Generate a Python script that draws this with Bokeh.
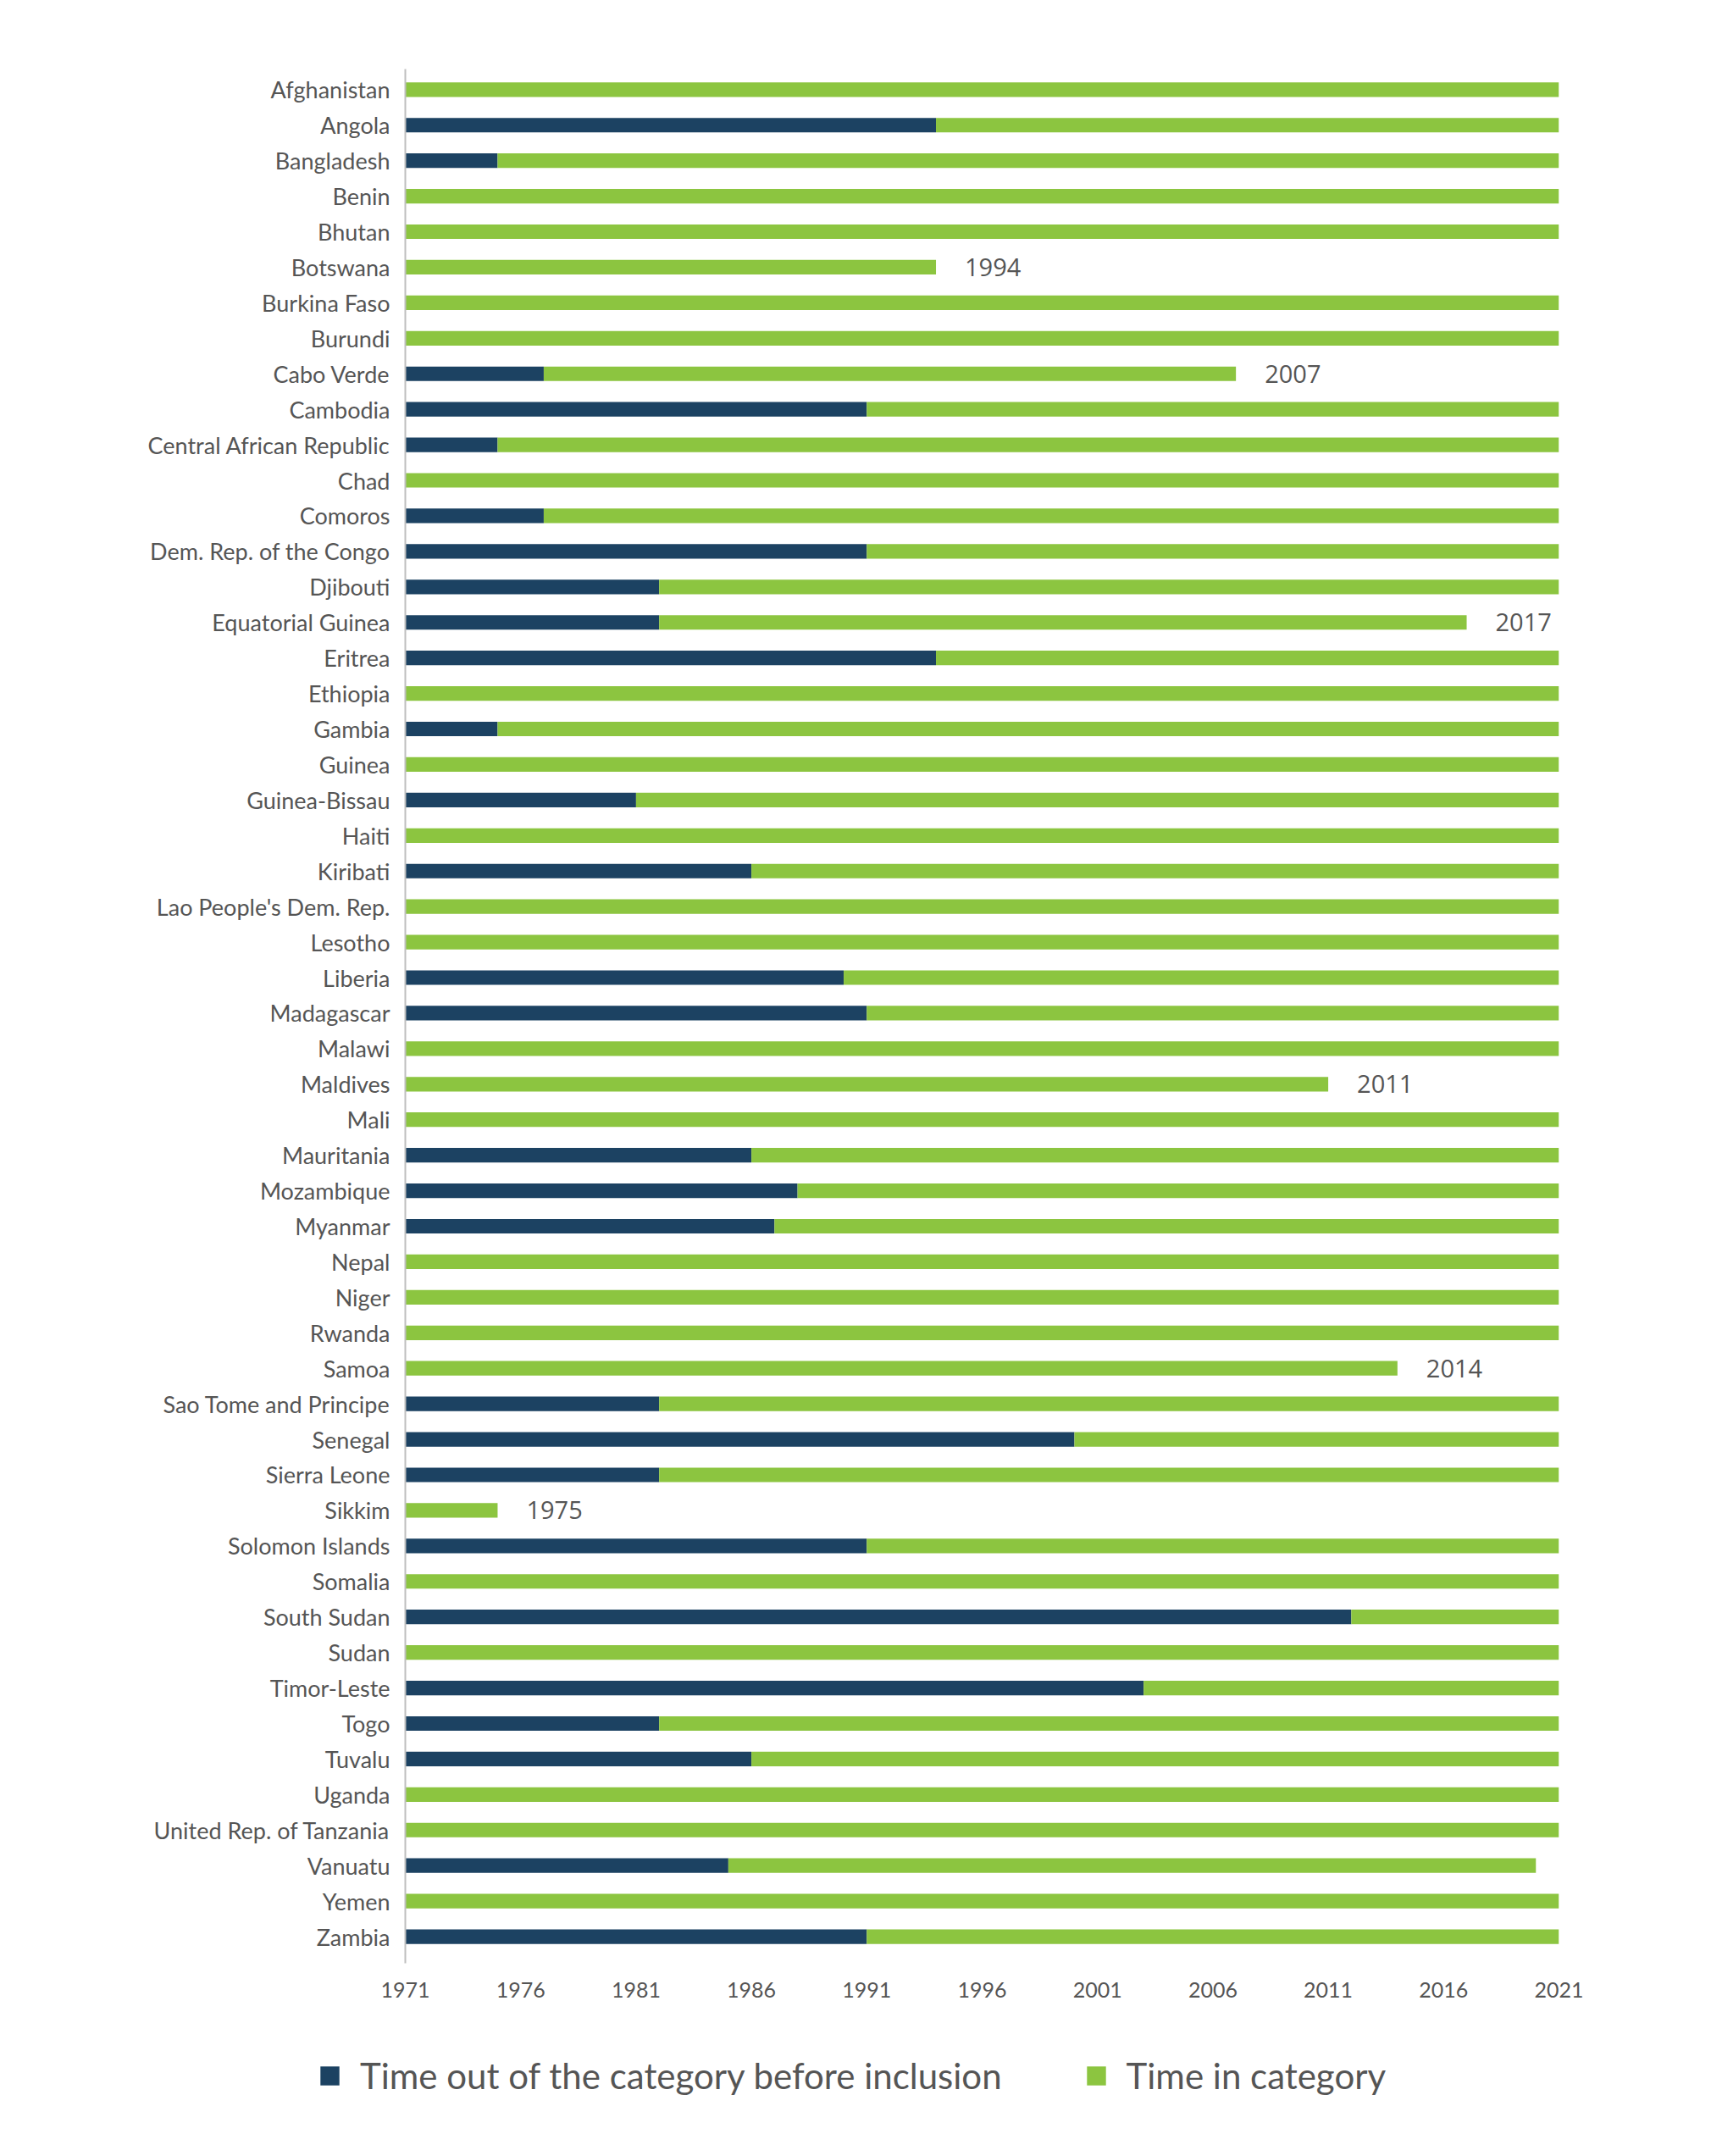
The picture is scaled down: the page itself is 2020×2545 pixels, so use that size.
from bokeh.plotting import figure
from bokeh.layouts import column
from bokeh.models import ColumnDataSource, Range1d, FixedTicker, Legend, LegendItem
from bokeh.core.properties import value
from bokeh.embed import file_html
from bokeh.resources import INLINE

countries = [
    "Afghanistan", "Angola", "Bangladesh", "Benin", "Bhutan", "Botswana",
    "Burkina Faso", "Burundi", "Cabo Verde", "Cambodia", "Central African Republic",
    "Chad", "Comoros", "Dem. Rep. of the Congo", "Djibouti", "Equatorial Guinea",
    "Eritrea", "Ethiopia", "Gambia", "Guinea", "Guinea-Bissau", "Haiti", "Kiribati",
    "Lao People's Dem. Rep.", "Lesotho", "Liberia", "Madagascar", "Malawi",
    "Maldives", "Mali", "Mauritania", "Mozambique", "Myanmar", "Nepal", "Niger",
    "Rwanda", "Samoa", "Sao Tome and Principe", "Senegal", "Sierra Leone", "Sikkim",
    "Solomon Islands", "Somalia", "South Sudan", "Sudan", "Timor-Leste", "Togo",
    "Tuvalu", "Uganda", "United Rep. of Tanzania", "Vanuatu", "Yemen", "Zambia",
]

inclusion_year = [
    1971, 1994, 1975, 1971, 1971, 1971,
    1971, 1971, 1977, 1991, 1975,
    1971, 1977, 1991, 1982, 1982,
    1994, 1971, 1975, 1971, 1981, 1971, 1986,
    1971, 1971, 1990, 1991, 1971,
    1971, 1971, 1986, 1988, 1987, 1971, 1971,
    1971, 1971, 1982, 2000, 1982, 1971,
    1991, 1971, 2012, 1971, 2003, 1982,
    1986, 1971, 1971, 1985, 1971, 1991,
]

# year of leaving the category (None = still in category)
graduation_year = [
    None, None, None, None, None, 1994,
    None, None, 2007, None, None,
    None, None, None, None, 2017,
    None, None, None, None, None, None, None,
    None, None, None, None, None,
    2011, None, None, None, None, None, None,
    None, 2014, None, None, None, 1975,
    None, None, None, None, None, None,
    None, None, None, 2020, None, None,
]

year_ticks = [1971, 1976, 1981, 1986, 1991, 1996, 2001, 2006, 2011, 2016, 2021]
start_year = 1971
current_year = 2021

series_names = ["Time out of the category before inclusion", "Time in category"]

DARK = "#1C4262"
GREEN = "#8CC540"
TEXT = "#555555"
LABEL_FONT = "Lato"

n = len(countries)
ypos = [n - 1 - i for i in range(n)]
end_year = [g if g is not None else current_year for g in graduation_year]

src = ColumnDataSource(dict(
    y=ypos,
    start=[start_year] * n,
    incl=inclusion_year,
    end=end_year,
))

p = figure(
    width=2000, height=2377,
    output_backend="svg", toolbar_location=None,
    x_range=Range1d(start_year, current_year),
    y_range=Range1d(-0.75, n - 1 + 0.58),
    min_border_left=478, min_border_right=160,
    min_border_top=81, min_border_bottom=60,
)
p.frame_align = False
p.outline_line_color = None
p.background_fill_color = "white"
p.border_fill_color = "white"
p.xgrid.grid_line_color = None
p.ygrid.grid_line_color = None

bh = 0.41
p.hbar(y="y", left="start", right="incl", height=bh, source=src,
       fill_color=DARK, line_color=None)
p.hbar(y="y", left="incl", right="end", height=bh, source=src,
       fill_color=GREEN, line_color=None)

# exit-year annotations
gx = [g for g in graduation_year if g is not None]
gy = [ypos[i] for i, g in enumerate(graduation_year) if g is not None]
gt = [str(g) for g in graduation_year if g is not None]
p.text(x=gx, y=gy, text=gt, x_offset=34, text_baseline="middle", text_align="left",
       text_font=value("Open Sans"), text_font_size="29px", text_color=TEXT)

# y axis
p.yaxis.ticker = FixedTicker(ticks=ypos)
p.yaxis.major_label_overrides = {ypos[i]: countries[i] for i in range(n)}
p.yaxis.major_tick_line_color = None
p.yaxis.minor_tick_line_color = None
p.yaxis.axis_line_color = "#BFBFBF"
p.yaxis.axis_line_width = 2
p.yaxis.major_label_text_font = LABEL_FONT
p.yaxis.major_label_text_font_size = "27px"
p.yaxis.major_label_text_color = TEXT
p.yaxis.major_label_standoff = 12

# x axis
p.xaxis.ticker = FixedTicker(ticks=year_ticks)
p.xaxis.axis_line_color = None
p.xaxis.major_tick_line_color = None
p.xaxis.minor_tick_line_color = None
p.xaxis.major_label_text_font = LABEL_FONT
p.xaxis.major_label_text_font_size = "25px"
p.xaxis.major_label_text_color = TEXT
p.xaxis.major_label_standoff = 16

# legend strip below the chart (same data, drawn out of view; only the legend shows)
lg = figure(
    width=2000, height=150,
    output_backend="svg", toolbar_location=None,
    x_axis_type=None, y_axis_type=None,
    x_range=Range1d(0, 1), y_range=Range1d(0, 1),
    min_border_left=0, min_border_right=0, min_border_top=0, min_border_bottom=0,
)
lg.frame_align = False
lg.outline_line_color = None
lg.xgrid.grid_line_color = None
lg.ygrid.grid_line_color = None
l_out = lg.hbar(y="y", left="start", right="incl", height=bh, source=src,
                fill_color=DARK, line_color=None)
l_in = lg.hbar(y="y", left="incl", right="end", height=bh, source=src,
               fill_color=GREEN, line_color=None)

legend = Legend(
    items=[LegendItem(label=series_names[0], renderers=[l_out]),
           LegendItem(label=series_names[1], renderers=[l_in])],
    orientation="horizontal",
    location=(375, 52),
    label_text_font=LABEL_FONT,
    label_text_font_size="42px",
    label_text_color=TEXT,
    glyph_width=28, glyph_height=28,
    label_standoff=22,
    spacing=97,
    padding=0, margin=0,
    border_line_color=None,
    background_fill_alpha=0,
)
lg.add_layout(legend, "center")

layout = column(p, lg, spacing=0)
open("out.html", "w").write(file_html(layout, INLINE))
